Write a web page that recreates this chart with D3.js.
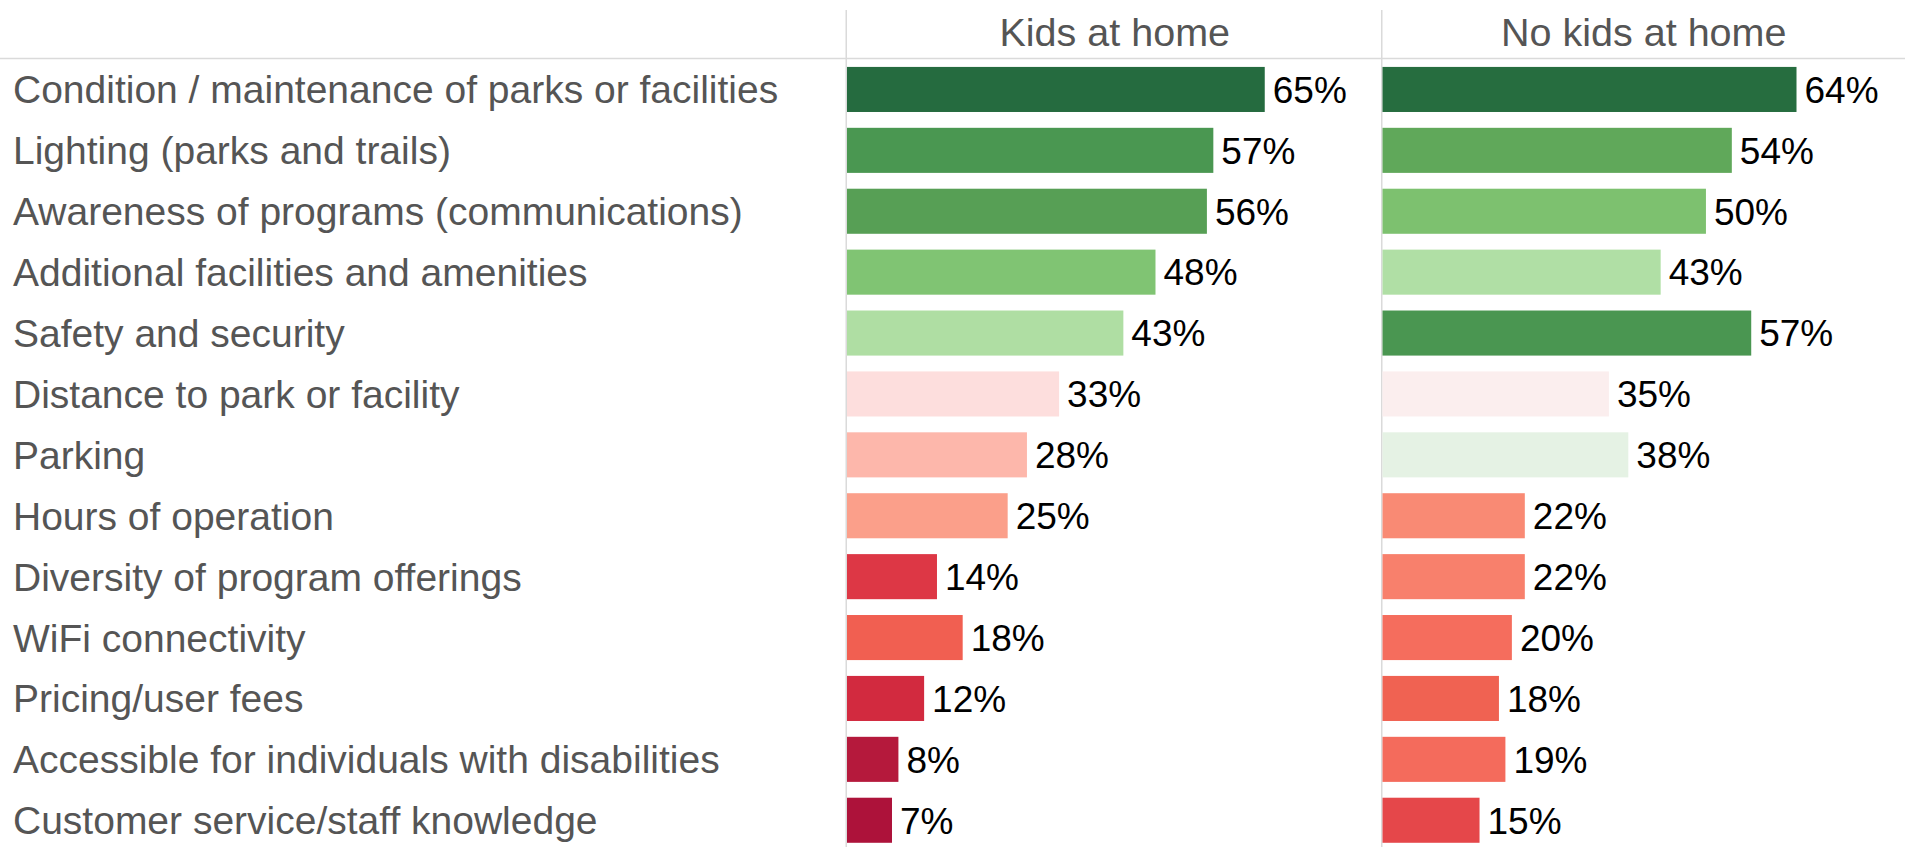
<!DOCTYPE html>
<html>
<head>
<meta charset="utf-8">
<script src="https://cdn.jsdelivr.net/npm/d3@7"></script>
<style>
html,body{margin:0;padding:0;background:#fff;overflow:hidden;}
svg{display:block;}
</style>
</head>
<body>
<svg id="chart" width="1905" height="847"></svg>
<script>
// ---- data ----
const categories = [
  "Condition / maintenance of parks or facilities",
  "Lighting (parks and trails)",
  "Awareness of programs (communications)",
  "Additional facilities and amenities",
  "Safety and security",
  "Distance to park or facility",
  "Parking",
  "Hours of operation",
  "Diversity of program offerings",
  "WiFi connectivity",
  "Pricing/user fees",
  "Accessible for individuals with disabilities",
  "Customer service/staff knowledge"
];
const panels = ["Kids at home", "No kids at home"];
const kidsValues   = [65, 57, 56, 48, 43, 33, 28, 25, 14, 18, 12, 8, 7];
const noKidsValues = [64, 54, 50, 43, 57, 35, 38, 22, 22, 20, 18, 19, 15];

// colour palettes (styles, kept separate from data)
const kidsColors = ["#256b3f","#4a9751","#579f55","#80c473","#afdea3","#fddedd","#fdb7ab","#fb9f8a","#dd3745","#f15f51","#d22a3f","#b5193c","#ad123a"];
const noKidsColors = ["#266d3f","#60a85a","#7dc16f","#b0dfa5","#4a9651","#fbeeee","#e5f2e4","#f98a74","#f8806c","#f56d5d","#f06252","#f46b5c","#e5474a"];

// ---- layout ----
const W = 1905, H = 847;
const headerY = 58.5;
const panelLefts = [847, 1382.5];
const panelRights = [1382.5, 1905];
const panelRangeWidths = [536, 539.5];
const svg = d3.select("#chart");

const y = d3.scaleBand()
  .domain(categories)
  .range([59, 59 + 13 * 60.9])
  .paddingInner(0.26)
  .paddingOuter(0.13);

const fontFam = "'Liberation Sans', Arial, sans-serif";

// grid lines
svg.append("line")
  .attr("x1", 0).attr("x2", W)
  .attr("y1", headerY).attr("y2", headerY)
  .attr("stroke", "#dadada").attr("stroke-width", 1.5);

panelLefts.forEach(px => {
  svg.append("line")
    .attr("x1", px - 0.75).attr("x2", px - 0.75)
    .attr("y1", 10).attr("y2", H)
    .attr("stroke", "#dadada").attr("stroke-width", 1.5);
});

// category labels
svg.append("g").selectAll("text")
  .data(categories)
  .join("text")
  .attr("x", 13)
  .attr("y", d => y(d) + y.bandwidth() / 2)
  .attr("dy", "0.36em")
  .attr("font-family", fontFam)
  .attr("font-size", 39)
  .attr("fill", "#555555")
  .text(d => d);

const series = [kidsValues, noKidsValues];
const palettes = [kidsColors, noKidsColors];

series.forEach((vals, pi) => {
  const left = panelLefts[pi];
  const x = d3.scaleLinear().domain([0, 83.4]).range([0, panelRangeWidths[pi]]);
  const color = d3.scaleOrdinal().domain(categories).range(palettes[pi]);
  const g = svg.append("g").attr("transform", `translate(${left},0)`);

  // header
  svg.append("text")
    .attr("x", (panelLefts[pi] + panelRights[pi]) / 2)
    .attr("y", 46)
    .attr("text-anchor", "middle")
    .attr("font-family", fontFam)
    .attr("font-size", 39.5)
    .attr("fill", "#555555")
    .text(panels[pi]);

  const rows = categories.map((c, i) => ({cat: c, v: vals[i]}));

  g.selectAll("rect")
    .data(rows)
    .join("rect")
    .attr("x", 0)
    .attr("y", d => y(d.cat))
    .attr("width", d => x(d.v))
    .attr("height", y.bandwidth())
    .attr("fill", d => color(d.cat));

  g.selectAll("text.val")
    .data(rows)
    .join("text")
    .attr("class", "val")
    .attr("x", d => x(d.v) + 8)
    .attr("y", d => y(d.cat) + y.bandwidth() / 2)
    .attr("dy", "0.36em")
    .attr("font-family", fontFam)
    .attr("font-size", 37)
    .attr("fill", "#000")
    .text(d => d.v + "%");
});
</script>
</body>
</html>
